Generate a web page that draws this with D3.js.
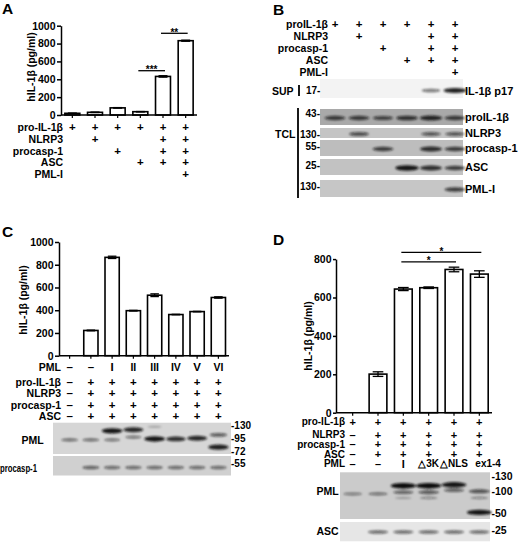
<!DOCTYPE html>
<html>
<head>
<meta charset="utf-8">
<script src="https://cdn.jsdelivr.net/npm/d3@7"></script>
<style>
body { margin: 0; background: #fff; }
svg { display: block; font-family: "Liberation Sans", Arial, sans-serif; font-weight: bold; }
</style>
</head>
<body>
<svg id="fig" width="520" height="543"></svg>
<script>
// ---- panel A : ELISA, PML-I enhances IL-1b release ----
var rowsA = ["pro-IL-1β", "NLRP3", "procasp-1", "ASC", "PML-I"];
var signsA = [
  ["+", "+", "+", "+", "+", "+"],
  ["", "+", "", "", "+", "+"],
  ["", "", "+", "", "+", "+"],
  ["", "", "", "+", "+", "+"],
  ["", "", "", "", "", "+"]
];
var valuesA = [19, 30, 80, 37, 432, 832];
var errorsA = [2, 2, 3, 2, 8, 6];
var ticksA = [0, 200, 400, 600, 800, 1000];
var sigA = [{from: 3, to: 4, level: 496, text: "***"}, {from: 4, to: 5, level: 915, text: "**"}];

// ---- panel B : western blots ----
var rowsB = ["proIL-1β", "NLRP3", "procasp-1", "ASC", "PML-I"];
var signsB = signsA;
var supB = {name: "IL-1β p17", marker: "17-", bands: [0, 0, 0, 0, 0.45, 0.9]};
var tclB = [
  {name: "proIL-1β", marker: "43-", bands: [0.7, 0.7, 0.65, 0.75, 0.85, 0.7]},
  {name: "NLRP3", marker: "130-", bands: [0, 0.6, 0, 0, 0.55, 0.55]},
  {name: "procasp-1", marker: "55-", bands: [0, 0, 0.7, 0, 0.8, 0.7]},
  {name: "ASC", marker: "25-", bands: [0, 0, 0, 0.95, 0.8, 0.7]},
  {name: "PML-I", marker: "130-", bands: [0, 0, 0, 0, 0, 0.7]}
];

// ---- panel C : PML isoforms ----
var pmlC = ["–", "–", "I", "II", "III", "IV", "V", "VI"];
var rowsC = ["pro-IL-1β", "NLRP3", "procasp-1", "ASC"];
var signsC = [
  ["–", "+", "+", "+", "+", "+", "+", "+"],
  ["–", "+", "+", "+", "+", "+", "+", "+"],
  ["–", "+", "+", "+", "+", "+", "+", "+"],
  ["–", "+", "+", "+", "+", "+", "+", "+"]
];
var valuesC = [0, 222, 865, 396, 532, 362, 388, 512];
var errorsC = [0, 3, 10, 3, 12, 2, 2, 6];
var ticksC = [0, 200, 400, 600, 800, 1000];
var markersC = [130, 95, 72, 55];
// [lane, apparent kDa, intensity]
var pmlBandsC = [[0, 93, 0.45], [1, 93, 0.45], [2, 114, 0.95], [2, 93, 0.4], [3, 117, 0.85], [3, 99, 0.4],
  [4, 125, 0.12], [4, 95, 0.95], [5, 95, 0.8], [6, 96.5, 0.85], [7, 104, 0.55], [7, 79, 0.9]];
var caspBandsC = [[1, 50, 0.5], [2, 50, 0.45], [3, 50, 0.45], [4, 50, 0.45], [5, 50, 0.45], [6, 50, 0.45], [7, 50, 0.45]];

// ---- panel D : PML-I mutants ----
var rowsD = ["pro-IL-1β", "NLRP3", "procasp-1", "ASC", "PML"];
var signsD = [
  ["+", "+", "+", "+", "+", "+"],
  ["–", "+", "+", "+", "+", "+"],
  ["–", "+", "+", "+", "+", "+"],
  ["–", "+", "+", "+", "+", "+"],
  ["–", "–", "I", "△3K", "△NLS", "ex1-4"]
];
var valuesD = [0, 201, 644, 651, 746, 722];
var errorsD = [0, 12, 8, 4, 12, 17];
var ticksD = [0, 200, 400, 600, 800];
var sigD = [{from: 2, to: 5, level: 835, text: "*"}, {from: 2, to: 4, level: 786, text: "*"}];
var markersD = [130, 100, 50, 25];
var pmlBandsD = [[0, 92, 0.35], [1, 92, 0.4], [2, 110, 1], [2, 97, 0.5], [2, 81, 0.12], [3, 110, 1], [3, 97, 0.55], [3, 81, 0.25],
  [4, 112, 0.95], [4, 102, 0.5], [5, 100, 0.6], [5, 81, 0.25], [5, 51, 0.95]];
var ascBandsD = [[1, 23.4, 0.5], [2, 23.4, 0.5], [3, 23.4, 0.5], [4, 23.4, 0.5], [5, 23.4, 0.5]];


var svg = d3.select("#fig");
var defs = svg.append("defs");
defs.append("filter").attr("id", "blur")
  .attr("x", "-50%").attr("y", "-150%").attr("width", "200%").attr("height", "400%")
  .append("feGaussianBlur").attr("stdDeviation", 0.8);

function letter(x, y, t) {
  svg.append("text").attr("x", x).attr("y", y).attr("font-size", 15.5).text(t);
}

// bar chart with error bars, axes and y title
function barChart(o) {
  var g = svg.append("g");
  var x = o.x, y = o.y, bw = x.bandwidth(), y0 = y(0);
  var cx = function(i) { return x(i) + bw / 2; };
  var pts = o.values.map(function(v, i) { return {v: v, e: o.errors[i], i: i}; });

  g.selectAll("rect").data(pts.filter(function(d) { return d.v > 0; })).join("rect")
    .attr("x", function(d) { return x(d.i); })
    .attr("y", function(d) { return y(d.v); })
    .attr("width", bw)
    .attr("height", function(d) { return y0 - y(d.v); })
    .attr("fill", "#fff").attr("stroke", "#000").attr("stroke-width", 1.6);

  var cap = bw * 0.3;
  pts.forEach(function(d) {
    if (!d.v || !d.e) return;
    var c = cx(d.i);
    var eg = g.append("g").attr("stroke", "#000").attr("stroke-width", 1.3);
    eg.append("line").attr("x1", c).attr("x2", c).attr("y1", y(d.v - d.e)).attr("y2", y(d.v + d.e));
    eg.append("line").attr("x1", c - cap).attr("x2", c + cap).attr("y1", y(d.v + d.e)).attr("y2", y(d.v + d.e));
    eg.append("line").attr("x1", c - cap).attr("x2", c + cap).attr("y1", y(d.v - d.e)).attr("y2", y(d.v - d.e));
  });

  var ya = g.append("g").attr("transform", "translate(" + o.axisX + ",0)")
    .call(d3.axisLeft(y).tickValues(o.ticks).tickFormat(d3.format("d")).tickSize(o.tick || 4).tickSizeOuter(0).tickPadding(1.5));
  ya.attr("font-family", null).attr("font-size", 10.5);
  ya.selectAll("path,line").attr("stroke-width", 1.5);

  var xa = g.append("g").attr("transform", "translate(0," + y0 + ")")
    .call(d3.axisBottom(x).tickSize(3).tickFormat(""));
  xa.select(".domain").remove();
  xa.selectAll("line").attr("stroke-width", 1.2);
  g.append("line").attr("x1", o.axisX).attr("x2", x.range()[1]).attr("y1", y0).attr("y2", y0)
    .attr("stroke", "#000").attr("stroke-width", 1.5);

  g.append("text").attr("transform", "translate(" + o.titleX + "," + o.titleY + ") rotate(-90)")
    .attr("text-anchor", "middle").attr("font-size", 10.5).text("hIL-1β (pg/ml)");

  (o.sig || []).forEach(function(s) {
    var ly = y(s.level);
    g.append("line").attr("x1", cx(s.from) - 2).attr("x2", cx(s.to) + 2).attr("y1", ly).attr("y2", ly)
      .attr("stroke", "#000").attr("stroke-width", 1.3);
    g.append("text").attr("x", (cx(s.from) + cx(s.to)) / 2).attr("y", ly + 2.5)
      .attr("text-anchor", "middle").attr("font-size", 10).text(s.text);
  });
  return cx;
}

// label rows of + / – under a chart
function signRows(labels, signs, lx, labelX, rowY, size, lastStart) {
  labels.forEach(function(lab, i) {
    svg.append("text").attr("x", labelX).attr("y", rowY(i)).attr("dominant-baseline", "central")
      .attr("text-anchor", "end").attr("font-size", size).text(lab);
    signs[i].forEach(function(s, j) {
      if (!s) return;
      var t = svg.append("text").attr("x", lx(j)).attr("y", rowY(i)).attr("dominant-baseline", "central")
        .attr("text-anchor", "middle").attr("font-size", s.length > 1 ? size : size + 1).attr("fill", "#000").text(s);
      if (lastStart && j === signs[i].length - 1 && s.length > 3) t.attr("text-anchor", "start").attr("x", lx(j) - 4);
    });
  });
}

function strip(x0, x1, y0, y1, fill) {
  svg.append("rect").attr("x", x0).attr("y", y0).attr("width", x1 - x0).attr("height", y1 - y0).attr("fill", fill);
}

function bands(list, lx, yOf, step) {
  svg.append("g").attr("filter", "url(#blur)").selectAll("ellipse").data(list).join("ellipse")
    .attr("cx", function(d) { return lx(d[0]); })
    .attr("cy", function(d) { return yOf(d[1]); })
    .attr("rx", function(d) { return step * (0.3 + 0.2 * d[2]); })
    .attr("ry", function(d) { return 0.8 + 2 * d[2]; })
    .attr("fill", "#111")
    .attr("opacity", function(d) { return 0.15 + 0.85 * d[2]; });
}

function txt(x, y, t, anchor, size) {
  return svg.append("text").attr("x", x).attr("y", y).attr("dominant-baseline", "central")
    .attr("text-anchor", anchor || "start").attr("font-size", size || 10.5).text(t);
}

// ================= A =================
letter(2, 14, "A");
var xA = d3.scaleBand().domain(d3.range(valuesA.length)).range([61, 197]).paddingInner(0.34).paddingOuter(0.17);
var yA = d3.scaleLinear().domain([0, 1000]).range([115, 25.7]);
var cxA = barChart({x: xA, y: yA, values: valuesA, errors: errorsA, ticks: ticksA, axisX: 61,
  titleX: 35, titleY: 67, sig: sigA});
signRows(rowsA, signsA, cxA, 63, function(i) { return 127 + i * 11.8; }, 10.5);

// ================= B =================
letter(273, 15, "B");
var lxB = d3.scalePoint().domain(d3.range(6)).range([335, 455]);
signRows(rowsB, signsB, lxB, 328, function(i) { return 23.5 + i * 12.1; }, 10.5);

// SUP strip
strip(320, 463, 79, 98, "#f3f3f3");
bands(supB.bands.map(function(v, i) { return [i, 0, v]; }).filter(function(d) { return d[2] > 0; }),
  lxB, function() { return 90.5; }, 24);
txt(272, 90.5, "SUP");
svg.append("line").attr("x1", 299).attr("x2", 299).attr("y1", 85).attr("y2", 96).attr("stroke", "#000").attr("stroke-width", 1.8);
txt(306, 90.5, supB.marker, "start", 10);
txt(465, 90.5, supB.name, "start", 11);

// TCL strips
var tclTop = [109, 128, 140, 159, 180];
var tclBot = [125, 138, 156, 175, 197];
var tclFill = ["#a9a9a9", "#c4c4c4", "#bdbdbd", "#c2c2c2", "#c6c6c6"];
tclB.forEach(function(s, k) {
  var yc = (tclTop[k] + tclBot[k]) / 2;
  strip(320, 463, tclTop[k], tclBot[k], tclFill[k]);
  bands(s.bands.map(function(v, i) { return [i, 0, v]; }).filter(function(d) { return d[2] > 0; }),
    lxB, function() { return yc + 1; }, 24);
  txt(320, tclTop[k] + 4 + (k === 0 ? 0 : 2), s.marker, "end", 10);
  txt(465, yc, s.name, "start", 11);
});
txt(275, 134, "TCL");
svg.append("line").attr("x1", 298).attr("x2", 298).attr("y1", 108).attr("y2", 198).attr("stroke", "#000").attr("stroke-width", 1.8);

// ================= C =================
letter(2, 237, "C");
var xC = d3.scaleBand().domain(d3.range(valuesC.length)).range([59, 229]).paddingInner(0.33).paddingOuter(0.165);
var yC = d3.scaleLinear().domain([0, 1000]).range([355.7, 242]);
var cxC = barChart({x: xC, y: yC, values: valuesC, errors: errorsC, ticks: ticksC, axisX: 59,
  titleX: 27, titleY: 300});
signRows(["PML"], [pmlC], cxC, 61, function() { return 367; }, 10.5);
signRows(rowsC, signsC, cxC, 61, function(i) { return 381.7 + i * 11.4; }, 10.5);

var mwC = d3.scaleLog().domain([130, 55]).range([425, 463.3]);
strip(53, 231, 422.7, 454, "#d6d6d6");
strip(53, 231, 456, 475.5, "#d0d0d0");
bands(pmlBandsC, cxC, mwC, xC.step());
bands(caspBandsC, cxC, mwC, xC.step());
markersC.forEach(function(m) { txt(231, mwC(m), "-" + m, "start", 10); });
txt(32.5, 440, "PML", "middle");
txt(37, 468.3, "procasp-1", "end").attr("textLength", 37).attr("lengthAdjust", "spacingAndGlyphs");

// ================= D =================
letter(273, 245, "D");
var xD = d3.scaleBand().domain(d3.range(valuesD.length)).range([340, 492]).paddingInner(0.3).paddingOuter(0.15);
var yD = d3.scaleLinear().domain([0, 800]).range([412.7, 259.1]);
var cxD = barChart({x: xD, y: yD, values: valuesD, errors: errorsD, ticks: ticksD, axisX: 336, tick: 3,
  titleX: 311.5, titleY: 336, sig: sigD});
signRows(rowsD, signsD, cxD, 345, function(i) { return i === 0 ? 421.5 : 434.5 + (i - 1) * 9.8; }, 10, true);

var mwD = d3.scaleLog().domain(markersD).range([476.3, 491.3, 513, 530.3]);
strip(340, 490, 472.3, 519, "#cbcbcb");
strip(340, 490, 522, 541.3, "#e6e6e6");
bands(pmlBandsD, cxD, mwD, xD.step());
bands(ascBandsD, cxD, mwD, xD.step());
markersD.forEach(function(m) { txt(491.5, mwD(m), "-" + m, "start", 10.5); });
txt(327.5, 491.3, "PML", "middle");
txt(327.5, 531.3, "ASC", "middle");
</script>
</body>
</html>
